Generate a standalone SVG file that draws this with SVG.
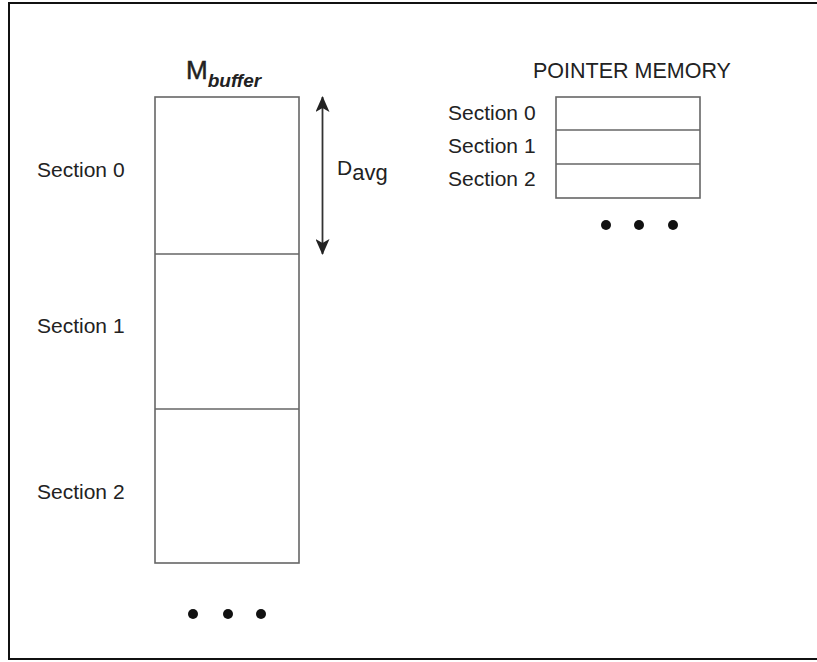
<svg xmlns="http://www.w3.org/2000/svg" width="817" height="662" viewBox="0 0 817 662">
<style>
.t{font-family:"Liberation Sans",Arial,sans-serif;fill:#222;}
.box{fill:none;stroke:#666;stroke-width:1.6;}
.div{stroke:#666;stroke-width:1.4;}
.dot{fill:#111;}
</style>
<defs>
<marker id="ah" viewBox="0 0 16 14" refX="15" refY="7" markerWidth="16" markerHeight="14" markerUnits="userSpaceOnUse" orient="auto-start-reverse">
<path d="M0,0 L16,7 L0,14 L4,7 Z" fill="#222"/>
</marker>
</defs>
<rect x="0" y="0" width="817" height="662" fill="#fff"/>
<rect x="9" y="3" width="830" height="656" fill="none" stroke="#111" stroke-width="2"/>

<g id="mbuffer">
<text class="t" x="186" y="79" font-size="26" stroke="#222" stroke-width="0.5">M<tspan font-size="19" font-weight="bold" font-style="italic" stroke="none" dy="8">buffer</tspan></text>
<rect class="box" x="155" y="97" width="144" height="466"/>
<line class="div" x1="155" y1="254" x2="299" y2="254"/>
<line class="div" x1="155" y1="409" x2="299" y2="409"/>
<text class="t" x="37" y="177" font-size="21">Section 0</text>
<text class="t" x="37" y="333" font-size="21">Section 1</text>
<text class="t" x="37" y="499" font-size="21">Section 2</text>
<circle class="dot" cx="193" cy="614" r="5"/>
<circle class="dot" cx="228" cy="614" r="5"/>
<circle class="dot" cx="261" cy="614" r="5"/>
</g>

<g id="davg">
<text class="t" x="337" y="175" font-size="21">D<tspan font-size="22" dy="5">avg</tspan></text>
</g>

<g id="pointer-memory">
<text class="t" x="533" y="78" font-size="21.5">POINTER MEMORY</text>
<rect class="box" x="556" y="97" width="144" height="101"/>
<line class="div" x1="556" y1="130" x2="700" y2="130"/>
<line class="div" x1="556" y1="164" x2="700" y2="164"/>
<text class="t" x="448" y="120" font-size="21">Section 0</text>
<text class="t" x="448" y="153" font-size="21">Section 1</text>
<text class="t" x="448" y="186" font-size="21">Section 2</text>
<circle class="dot" cx="606" cy="225" r="5"/>
<circle class="dot" cx="639" cy="225" r="5"/>
<circle class="dot" cx="673" cy="225" r="5"/>
</g>

<g id="connectors">
<line x1="322.5" y1="97" x2="322.5" y2="254" stroke="#333" stroke-width="1.8" marker-start="url(#ah)" marker-end="url(#ah)"/>
</g>
</svg>
